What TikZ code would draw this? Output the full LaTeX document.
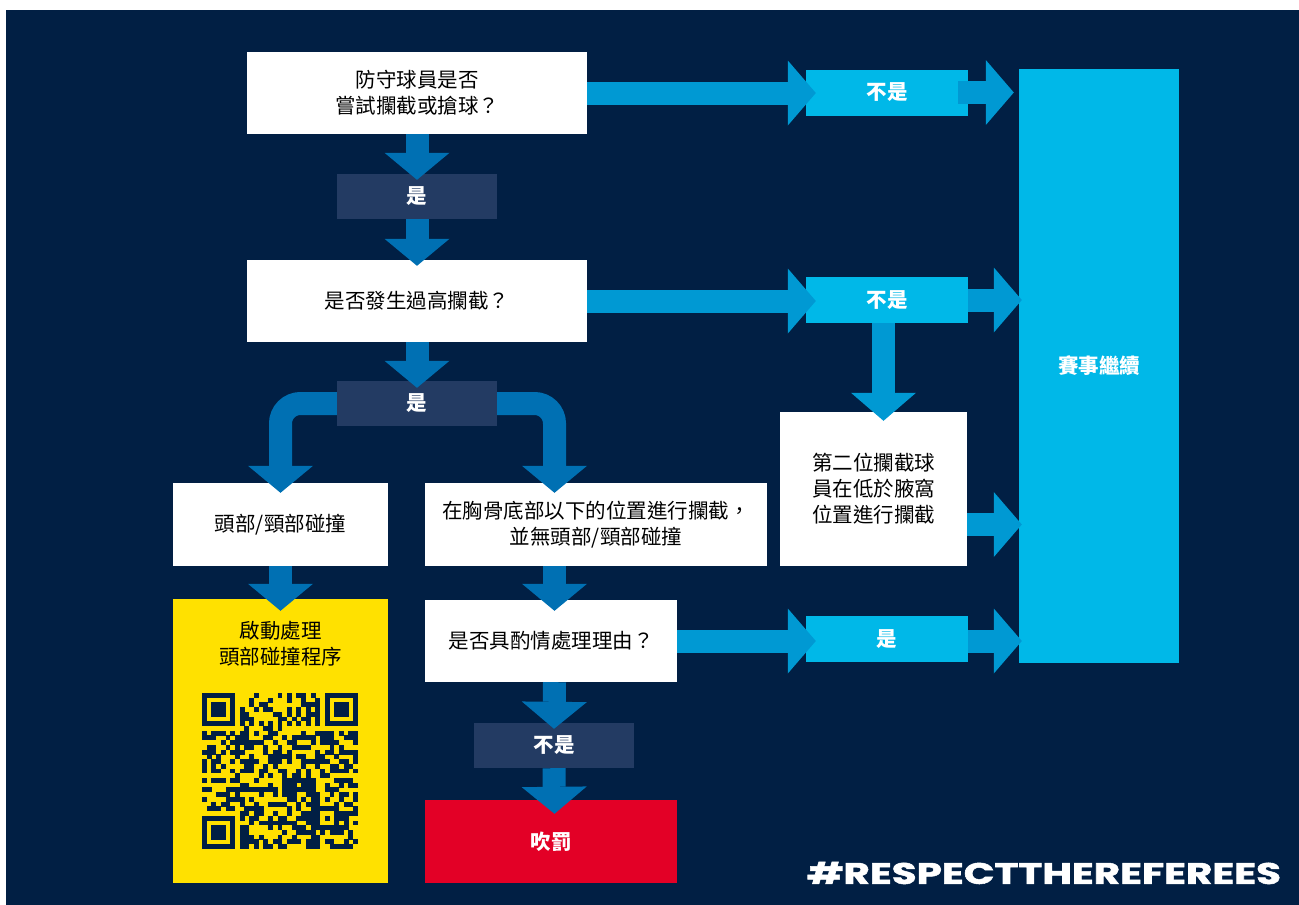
\documentclass[tikz,border=0pt]{standalone}
\usepackage{fontspec}
\newfontfamily\cjk{Noto Sans CJK TC}
\newfontfamily\tagfont{Poppins}[BoldFeatures={FakeBold=1.6}]
\usetikzlibrary{arrows.meta,calc}
\definecolor{navy}{HTML}{011F44}
\definecolor{slate}{HTML}{233B63}
\definecolor{darkarrow}{HTML}{0070B3}
\definecolor{lightarrow}{HTML}{0099D3}
\definecolor{cyanc}{HTML}{00B8E8}
\definecolor{qryellow}{HTML}{FFE100}
\definecolor{penred}{HTML}{E30026}
\tikzset{
  sz/.style 2 args={minimum width=#1pt, minimum height=#2pt},
  wbox/.style={rectangle, fill=white, inner sep=0pt, text=black, align=center,
    font=\cjk\fontsize{20.5}{26}\selectfont},
  lbl/.style={rectangle, inner sep=0pt, text=white, align=center,
    font=\cjk\bfseries\fontsize{20.5}{26}\selectfont},
  slatebox/.style={lbl, fill=slate},
  cyanbox/.style={lbl, fill=cyanc},
  redbox/.style={lbl, fill=penred},
  yellowbox/.style={rectangle, fill=qryellow, inner sep=0pt},
  darr/.style={draw=darkarrow, line width=23pt,
    -{Triangle[length=27pt,width=65pt,line width=0pt]}},
  larr/.style={draw=lightarrow, line width=23pt,
    -{Triangle[length=28pt,width=65pt,line width=0pt]}},
}
\begin{document}
\begin{tikzpicture}[x=1pt,y=-1pt]
\useasboundingbox (0,0) rectangle (1299,905);
\fill[white] (0,0) rectangle (1299,905);
\fill[navy] (6,10) rectangle (1299,905);

% columns / rows for connectors
\coordinate (colB) at (554.5,0);
\coordinate (colC) at (883.5,0);

% left column
\node[wbox, sz={340}{82}] (q1) at (417,93) {防守球員是否\\嘗試攔截或搶球？};
\node[slatebox, sz={160}{45}] (y1) at (417,196.5) {是};
\node[wbox, sz={340}{82}] (q2) at (417,301) {是否發生過高攔截？};
\node[slatebox, sz={160}{45}] (y2) at (417,403.5) {是};
\node[wbox, sz={215}{83}] (hn) at (280.5,524.5) {頭部/頸部碰撞};
\node[yellowbox, sz={215}{284}] (yl) at (280.5,741) {};
\node[text=black, inner sep=0pt, align=center, font=\cjk\fontsize{20.5}{26}\selectfont] (yt) at (280.5,643.5) {啟動處理\\頭部碰撞程序};
\node[wbox, sz={342}{83}] (st) at (596,524.5) {在胸骨底部以下的位置進行攔截，\\並無頭部/頸部碰撞};
\node[wbox, sz={252}{82}] (dq) at (551,641) {是否具酌情處理理由？};
\node[slatebox, sz={160}{45}] (n3) at (554,745.5) {不是};
\node[redbox, sz={252}{83}] (pen) at (551,841.5) {吹罰};

% right column
\node[cyanbox, sz={162}{46}] (nA) at (887,92.5) {不是};
\node[cyanbox, sz={162}{46}] (nB) at (887,300) {不是};
\node[wbox, sz={187}{154}] (sec) at (873.5,489) {第二位攔截球\\員在低於腋窩\\位置進行攔截};
\node[cyanbox, sz={162}{46}] (yB) at (887,639) {是};
\node[cyanbox, sz={160}{594}] (go) at (1099,366) {賽事繼續};

% QR code
\def\qx{202}\def\qy{693}\def\qm{4.727}
\pgfmathsetseed{4242}
\foreach \r in {0,...,32}{
  \foreach \c in {0,...,32}{
    \pgfmathtruncatemacro\qskip{((\r<8)&&(\c<8))||((\r<8)&&(\c>24))||((\r>24)&&(\c<8))||((\r>23)&&(\r<29)&&(\c>23)&&(\c<29))}
    \ifnum\qskip=0
      \pgfmathtruncatemacro\qt{(\r==6)||(\c==6)}
      \ifnum\qt=1
        \pgfmathtruncatemacro\qd{mod(\r+\c+1,2)}
      \else
        \pgfmathrandominteger{\qd}{0}{1}
      \fi
      \ifnum\qd=1
        \fill[navy] (\qx+\c*\qm-0.1, \qy+\r*\qm-0.1) rectangle +(\qm+0.2,\qm+0.2);
      \fi
    \fi
  }
}
\foreach \fr/\fc in {0/0, 0/26, 26/0}{
  \fill[navy] (\qx+\fc*\qm, \qy+\fr*\qm) rectangle +(7*\qm,7*\qm);
  \fill[qryellow] (\qx+\fc*\qm+\qm, \qy+\fr*\qm+\qm) rectangle +(5*\qm,5*\qm);
  \fill[navy] (\qx+\fc*\qm+2*\qm, \qy+\fr*\qm+2*\qm) rectangle +(3*\qm,3*\qm);
}
\fill[navy] (\qx+24*\qm, \qy+24*\qm) rectangle +(5*\qm,5*\qm);
\fill[qryellow] (\qx+25*\qm, \qy+25*\qm) rectangle +(3*\qm,3*\qm);
\fill[navy] (\qx+26*\qm, \qy+26*\qm) rectangle +(\qm,\qm);

% vertical connectors (dark)
\draw[darr] (q1.south) -- ($(y1.north)+(0,6)$);
\draw[darr] (y1.south) -- ($(q2.north)+(0,6)$);
\draw[darr] (q2.south) -- ($(y2.north)+(0,7)$);
\draw[darr, rounded corners=20pt] (y2.west) -| ($(hn.north)+(0,10)$);
\draw[darr, rounded corners=20pt] (y2.east) -| ($(colB |- st.north)+(0,10)$);
\draw[darr] (hn.south) -- ($(yl.north)+(0,12)$);
\draw[darr] (colB |- st.south) -- ($(colB |- dq.north)+(0,11)$);
\draw[darr] (colB |- dq.south) -- ($(n3.north)+(0,6)$);
\draw[darr] (n3.south) -- ($(colB |- pen.north)+(0,14)$);

% horizontal connectors (light)
\draw[larr] (q1.east) -- ([xshift=10pt]q1.east -| nA.west);
\draw[larr] ([xshift=-10pt]nA.east) -- ([xshift=-5pt]nA.east -| go.west);
\draw[larr] (q2.east) -- ([xshift=10pt]q2.east -| nB.west);
\draw[larr] (nB.east) -- ([xshift=3pt]nB.east -| go.west);
\draw[larr] (colC |- nB.south) -- ($(colC |- sec.north)+(0,9)$);
\draw[larr] (sec.east |- st.east) -- ([xshift=3pt]st.east -| go.west);
\draw[larr] (dq.east) -- ([xshift=10pt]dq.east -| yB.west);
\draw[larr] (yB.east |- dq.east) -- ([xshift=3pt]dq.east -| go.west);

% hashtag
\node[inner sep=0pt, text=white] (tag) at (1044,873) {\resizebox{474pt}{22pt}{\tagfont\bfseries \#RESPECTTHEREFEREES}};
\end{tikzpicture}
\end{document}
